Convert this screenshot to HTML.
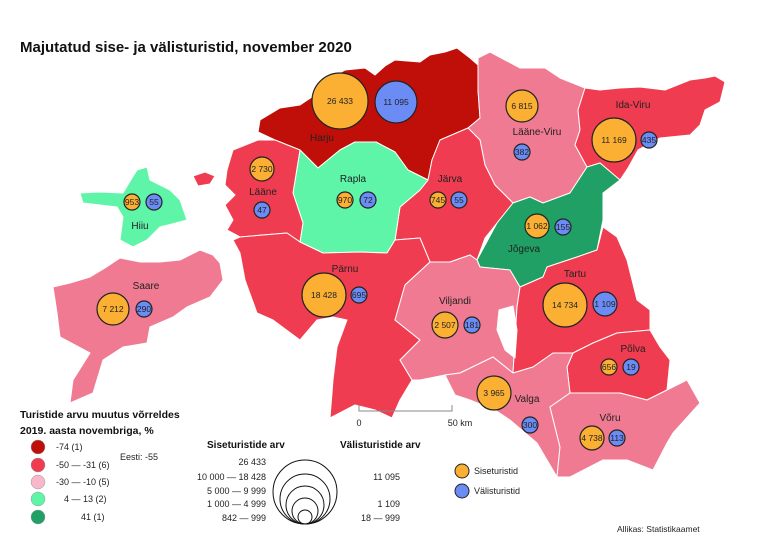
<!DOCTYPE html>
<html><head><meta charset="utf-8"><style>
body{margin:0;background:#fff;width:768px;height:544px;overflow:hidden}
svg text{font-family:"Liberation Sans",sans-serif}
</style></head><body>
<svg width="768" height="544" viewBox="0 0 768 544" xmlns="http://www.w3.org/2000/svg">
<rect width="768" height="544" fill="#fff"/>
<text x="20" y="52" font-size="15" font-weight="bold" fill="#111">Majutatud sise- ja välisturistid, november 2020</text>
<g stroke="#fff" stroke-width="1" stroke-linejoin="round">
<polygon fill="#c00f08" points="258,132 260,120 280,108 300,105 315,95 330,78 345,70 365,68 375,75 385,66 395,60 420,62 430,55 445,52 457,48 470,58 478,65 478,90 480,118 468,128 440,140 432,160 428,180 408,170 395,152 376,142 355,142 340,150 318,168 300,150 275,140"/>
<polygon fill="#f07a92" points="478,58 490,52 505,60 520,68 545,68 560,78 585,88 578,110 580,130 575,145 587,167 570,193 543,203 530,197 513,203 505,195 495,185 485,165 480,140 468,128 480,118 478,90"/>
<polygon fill="#f03c50" points="585,88 600,90 620,88 640,87 665,90 690,80 705,78 715,76 725,82 720,102 705,110 700,125 690,135 660,138 638,150 628,168 620,180 600,163 587,167 575,145 580,130 578,110"/>
<polygon fill="#f03c50" points="432,160 440,140 468,128 480,140 485,165 495,185 505,195 513,203 497,223 485,238 477,260 470,255 450,262 430,262 420,238 395,240 400,207 420,190 428,180"/>
<polygon fill="#5ef5a8" points="300,150 318,168 340,150 355,142 376,142 395,152 408,170 428,180 420,190 400,207 395,240 387,253 360,252 323,253 300,242 303,223 293,193"/>
<polygon fill="#f03c50" points="227,170 233,150 258,140 275,140 300,150 293,193 303,223 300,242 287,233 240,237 227,230 233,220 225,205 235,195 225,185"/>
<polygon fill="#f03c50" points="193,176 205,172 215,176 210,184 198,186"/>
<polygon fill="#5ef5a8" points="80,193 100,192 123,193 132,178 137,170 147,167 150,180 170,190 180,200 187,220 172,224 160,227 147,240 133,247 120,240 123,217 117,207 83,203"/>
<polygon fill="#f07a92" points="53,287 70,283 90,277 105,268 120,258 140,262 160,262 180,260 200,250 213,255 220,263 223,280 210,297 187,307 173,317 150,327 147,343 123,347 103,360 93,393 70,403 73,380 90,353 60,337 57,313"/>
<polygon fill="#20a064" points="477,260 497,223 513,203 530,197 543,203 570,193 587,167 600,163 620,180 603,193 603,220 597,250 577,257 547,267 543,277 520,287 510,270 480,267"/>
<polygon fill="#f03c50" points="233,240 240,237 287,233 300,242 323,253 360,252 387,253 395,240 420,238 430,262 405,285 395,320 420,340 400,360 412,380 400,400 392,418 375,410 355,405 330,418 333,380 337,347 347,320 333,317 317,320 300,340 273,320 257,313 245,280 240,253"/>
<polygon fill="#f07a92" points="430,262 450,262 470,255 477,260 480,267 510,270 520,287 517,307 513,373 493,357 460,373 445,375 420,380 412,380 400,360 420,340 395,320 405,285"/>
<polygon fill="#f03c50" points="520,287 543,277 547,267 577,257 597,250 603,227 617,237 627,260 637,300 650,310 650,330 617,333 593,343 573,353 553,353 533,367 513,373 517,307"/>
<polygon fill="#fff" points="499,310 513,306 517,330 515,358 505,350 497,330"/>
<polygon fill="#f03c50" points="573,353 593,343 617,333 650,330 660,347 670,360 667,390 647,400 620,393 570,393 567,367"/>
<polygon fill="#f07a92" points="445,375 460,373 493,357 513,373 533,367 553,353 573,353 567,367 570,393 550,407 560,447 557,477 537,443 510,420 495,410 470,400 455,395"/>
<polygon fill="#f07a92" points="570,393 620,393 647,400 667,390 687,380 700,403 673,433 667,443 653,470 627,460 603,460 570,477 557,477 560,447 550,407"/>
</g>
<path d="M359,405 V411 H452 V405" fill="none" stroke="#888" stroke-width="1"/>
<text x="359" y="426" font-size="9" text-anchor="middle" fill="#222">0</text>
<text x="460" y="426" font-size="9" text-anchor="middle" fill="#222">50 km</text>
<g font-size="10" fill="#222" text-anchor="middle">
<text x="322" y="141">Harju</text><text x="537" y="135">Lääne-Viru</text><text x="633" y="108">Ida-Viru</text>
<text x="263" y="195">Lääne</text><text x="140" y="229">Hiiu</text><text x="353" y="182">Rapla</text>
<text x="450" y="182">Järva</text><text x="524" y="252">Jõgeva</text><text x="146" y="289">Saare</text>
<text x="345" y="272">Pärnu</text><text x="455" y="304">Viljandi</text><text x="575" y="277">Tartu</text>
<text x="633" y="352">Põlva</text><text x="527" y="402">Valga</text><text x="610" y="421">Võru</text>
</g>
<g stroke="#222" stroke-width="1.2">
<circle cx="340" cy="101" r="28" fill="#fbb034"/><circle cx="396" cy="102" r="21" fill="#6b8cf5"/>
<circle cx="522" cy="106" r="16" fill="#fbb034"/><circle cx="522" cy="152" r="8" fill="#6b8cf5"/>
<circle cx="614" cy="140" r="22" fill="#fbb034"/><circle cx="649" cy="140" r="8" fill="#6b8cf5"/>
<circle cx="262" cy="169" r="12" fill="#fbb034"/><circle cx="262" cy="210" r="8" fill="#6b8cf5"/>
<circle cx="132" cy="202" r="8" fill="#fbb034"/><circle cx="154" cy="202" r="8" fill="#6b8cf5"/>
<circle cx="345" cy="200" r="8" fill="#fbb034"/><circle cx="368" cy="200" r="8" fill="#6b8cf5"/>
<circle cx="438" cy="200" r="8" fill="#fbb034"/><circle cx="459" cy="200" r="8" fill="#6b8cf5"/>
<circle cx="537" cy="226" r="12" fill="#fbb034"/><circle cx="563" cy="227" r="8" fill="#6b8cf5"/>
<circle cx="113" cy="309" r="16" fill="#fbb034"/><circle cx="144" cy="309" r="8" fill="#6b8cf5"/>
<circle cx="324" cy="295" r="22" fill="#fbb034"/><circle cx="359" cy="295" r="8" fill="#6b8cf5"/>
<circle cx="445" cy="325" r="13" fill="#fbb034"/><circle cx="472" cy="325" r="8" fill="#6b8cf5"/>
<circle cx="565" cy="305" r="22" fill="#fbb034"/><circle cx="605" cy="304" r="12" fill="#6b8cf5"/>
<circle cx="609" cy="367" r="8" fill="#fbb034"/><circle cx="631" cy="367" r="8" fill="#6b8cf5"/>
<circle cx="494" cy="393" r="17" fill="#fbb034"/><circle cx="530" cy="425" r="8" fill="#6b8cf5"/>
<circle cx="592" cy="438" r="12" fill="#fbb034"/><circle cx="617" cy="438" r="8" fill="#6b8cf5"/>
</g>
<g font-size="8.5" fill="#222" text-anchor="middle">
<text x="340" y="104">26 433</text><text x="396" y="105">11 095</text>
<text x="522" y="109">6 815</text><text x="522" y="155">382</text>
<text x="614" y="143">11 169</text><text x="649" y="143">435</text>
<text x="262" y="172">2 730</text><text x="262" y="213">47</text>
<text x="132" y="205">953</text><text x="154" y="205">55</text>
<text x="345" y="203">970</text><text x="368" y="203">72</text>
<text x="438" y="203">745</text><text x="459" y="203">55</text>
<text x="537" y="229">1 062</text><text x="563" y="230">155</text>
<text x="113" y="312">7 212</text><text x="144" y="312">290</text>
<text x="324" y="298">18 428</text><text x="359" y="298">695</text>
<text x="445" y="328">2 507</text><text x="472" y="328">181</text>
<text x="565" y="308">14 734</text><text x="605" y="307">1 109</text>
<text x="609" y="370">656</text><text x="631" y="370">19</text>
<text x="494" y="396">3 965</text><text x="530" y="428">300</text>
<text x="592" y="441">4 738</text><text x="617" y="441">113</text>
</g>
<text x="20" y="418" font-size="10.5" font-weight="bold" fill="#111">Turistide arvu muutus võrreldes</text>
<text x="20" y="434" font-size="10.5" font-weight="bold" fill="#111">2019. aasta novembriga, %</text>
<g stroke="#999" stroke-width="0.5">
<circle cx="38" cy="447" r="7" fill="#c00f08"/>
<circle cx="38" cy="465" r="7" fill="#f03c50"/>
<circle cx="38" cy="482" r="7" fill="#f8b8cc"/>
<circle cx="38" cy="499" r="7" fill="#5ef5a8"/>
<circle cx="38" cy="517" r="7" fill="#20a064"/>
</g>
<g font-size="9" fill="#222">
<text x="56" y="450">-74 (1)</text>
<text x="56" y="468">-50 — -31 (6)</text>
<text x="56" y="485">-30 — -10 (5)</text>
<text x="64" y="502">4 —  13 (2)</text>
<text x="81" y="520">41 (1)</text>
<text x="120" y="460">Eesti: -55</text>
</g>
<text x="207" y="448" font-size="10" font-weight="bold" fill="#111">Siseturistide arv</text>
<text x="340" y="448" font-size="10" font-weight="bold" fill="#111">Välisturistide arv</text>
<g font-size="9" fill="#222" text-anchor="end">
<text x="266" y="465">26 433</text>
<text x="266" y="480">10 000 — 18 428</text>
<text x="266" y="494">5 000 —   9 999</text>
<text x="266" y="507">1 000 —   4 999</text>
<text x="266" y="521">842 —     999</text>
<text x="400" y="480">11 095</text>
<text x="400" y="507">1 109</text>
<text x="400" y="521">18 —     999</text>
</g>
<g fill="none" stroke="#111" stroke-width="1">
<circle cx="305" cy="492" r="32"/><circle cx="305" cy="499" r="25"/><circle cx="305" cy="505" r="19"/>
<circle cx="305" cy="511" r="13"/><circle cx="305" cy="517" r="7"/>
</g>
<circle cx="462" cy="471" r="7" fill="#fbb034" stroke="#222"/>
<circle cx="462" cy="491" r="7" fill="#6b8cf5" stroke="#222"/>
<text x="474" y="474" font-size="9" fill="#222">Siseturistid</text>
<text x="474" y="494" font-size="9" fill="#222">Välisturistid</text>
<text x="617" y="532" font-size="8.5" fill="#222">Allikas: Statistikaamet</text>
</svg>
</body></html>
